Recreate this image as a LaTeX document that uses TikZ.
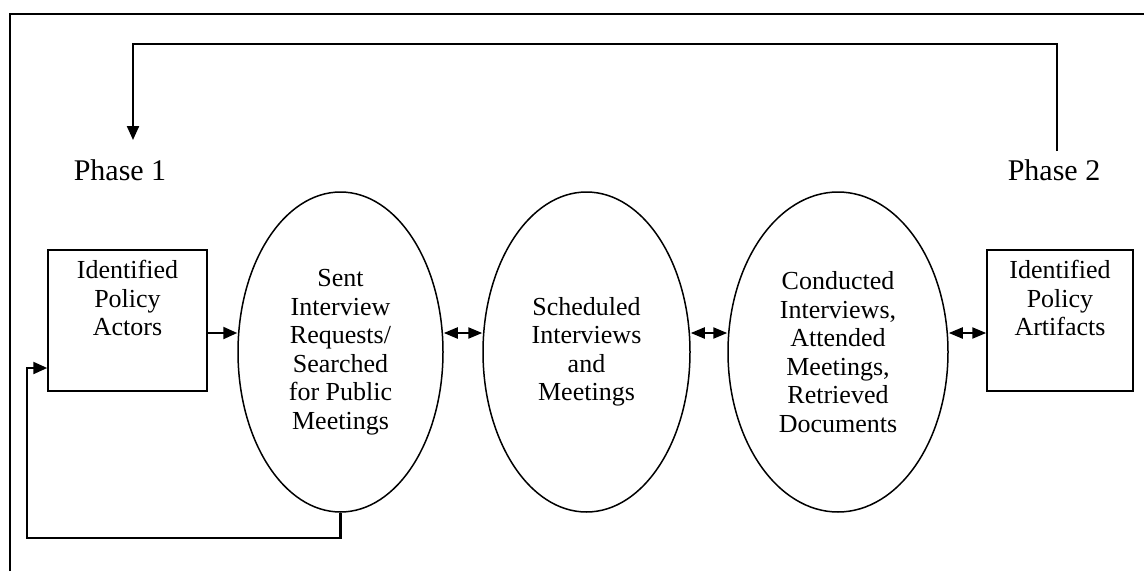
\documentclass[tikz,border=0pt]{standalone}
\usepackage{fontspec}
\setmainfont{Liberation Serif}
\usetikzlibrary{arrows.meta,positioning,shapes.geometric}
\tikzset{%
  actorbox/.style = {shape=rectangle, draw, line width=1.5pt,%
                     minimum width=159pt, minimum height=141pt},%
  stage/.style    = {shape=ellipse, draw, line width=1.5pt, inner sep=0pt,%
                     minimum height=320pt, align=center,%
                     font=\fontsize{26}{28.5}\selectfont},%
  caption/.style  = {align=center, inner sep=0pt,%
                     font=\fontsize{26}{28.5}\selectfont},%
  phase/.style    = {inner sep=0pt, anchor=base, font=\fontsize{30}{32}\selectfont},%
  flow/.style     = {line width=2.2pt, -{Triangle[length=14pt,width=12pt]}},%
  twoway/.style   = {line width=2.2pt,%
                     {Triangle[length=14pt,width=11pt]}-{Triangle[length=14pt,width=11pt]}}%
}
\begin{document}
\begin{tikzpicture}[x=1pt,y=-1pt]%
	\useasboundingbox (0,0) rectangle (1144,571);
	\draw[line width=2pt] (10,571) -- (10,14) -- (1144,14);
	% labels of the phases
	\node[phase] (ph1) at (120,180) {Phase 1};
	\node[phase] (ph2) at (1054,180) {Phase 2};
	% boxes and stages
	\node[actorbox] (box1) at (127.5,320.5) {};
	\node[caption, below=11pt of box1.north] (t1) {Identified\\Policy\\Actors};
	\node[stage, minimum width=205pt] (e1) at (340.5,352)
		{Sent\\Interview\\Requests/\\Searched\\for Public\\Meetings};
	\node[stage, minimum width=207pt] (e2) at (586.5,352)
		{Scheduled\\Interviews\\and\\Meetings};
	\node[stage, minimum width=220pt] (e3) at (838,352)
		{Conducted\\Interviews,\\Attended\\Meetings,\\Retrieved\\Documents};
	\node[actorbox, minimum width=146pt] (box2) at (1060,320.5) {};
	\node[caption, below=11pt of box2.north] (t5) {Identified\\Policy\\Artifacts};
	% connectors
	\draw[flow] ([yshift=-12.5pt]box1.east) -- ([yshift=-12.5pt]box1.east -| e1.west);
	\draw[twoway] ([yshift=19pt]e1.east) -- ([yshift=19pt]e2.west);
	\draw[twoway] ([yshift=19pt]e2.east) -- ([yshift=19pt]e3.west);
	\draw[twoway] ([yshift=19pt]e3.east) -- ([yshift=19pt]e3.east -| box2.west);
	\coordinate (loopbot) at (27,538);
	\draw[flow] (e1.south) |- (loopbot) |- ([yshift=-47.5pt]box1.west);
	\coordinate (loopstart) at (1057,151);
	\coordinate (looptop) at (133,44);
	\coordinate (loopend) at (133,140);
	\draw[flow] (loopstart) |- (looptop) -- (loopend);
\end{tikzpicture}
\end{document}
